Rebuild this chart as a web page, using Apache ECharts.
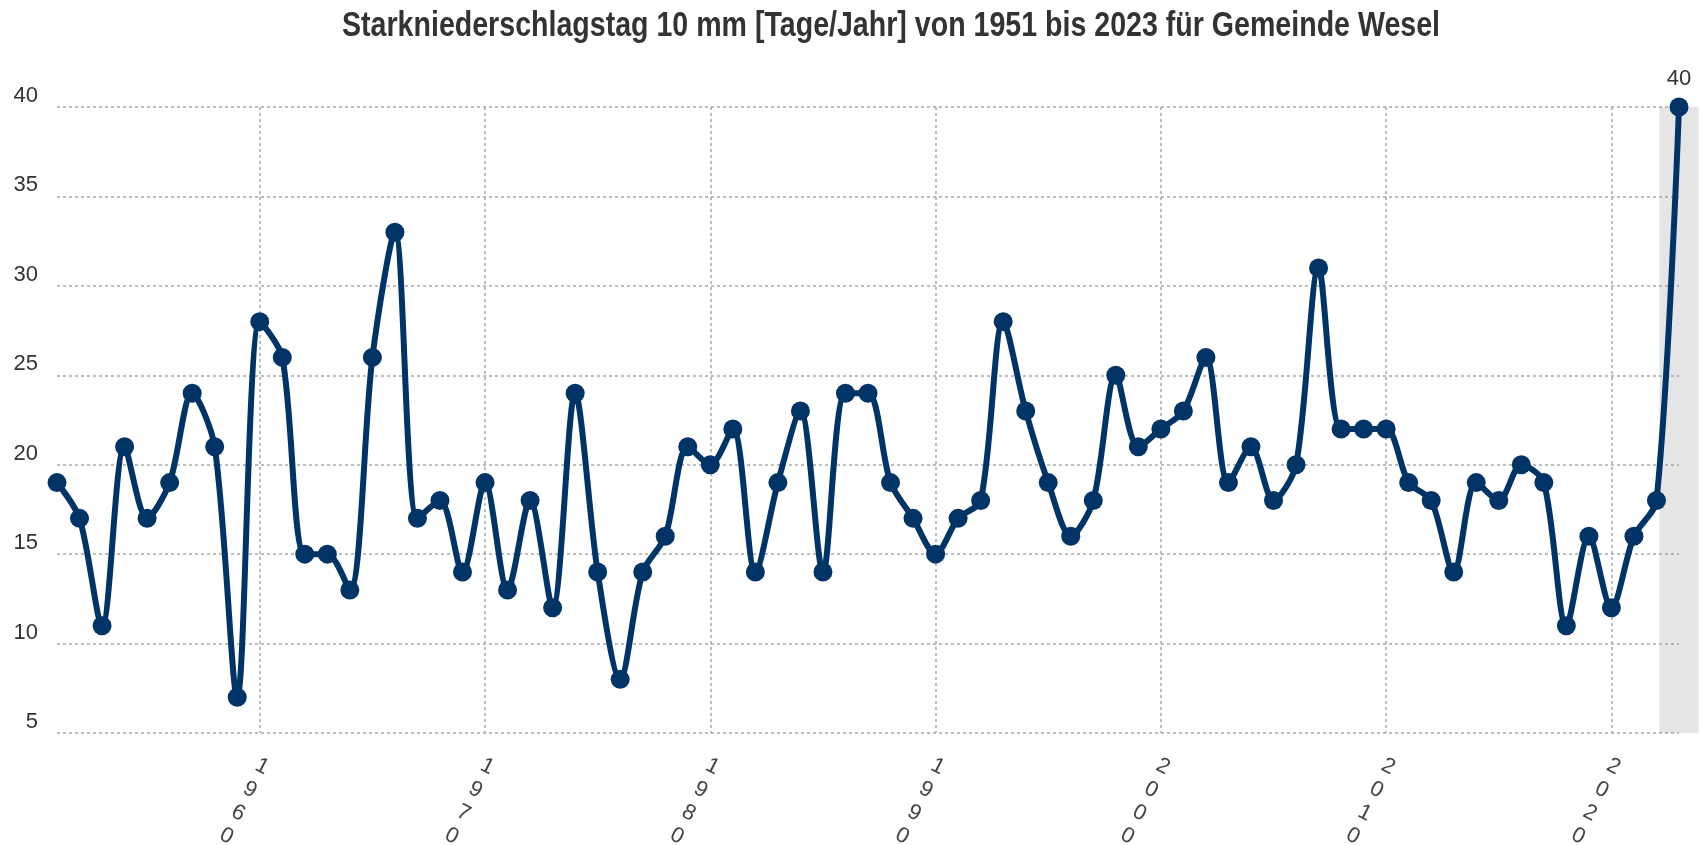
<!DOCTYPE html>
<html>
<head>
<meta charset="utf-8">
<script src="https://cdn.jsdelivr.net/npm/echarts@6/dist/echarts.min.js"></script>
<style>
html,body{margin:0;padding:0;background:#fff;}
#chart{width:1700px;height:845px;}
</style>
</head>
<body>
<div id="chart"></div>
<script>
const titleText = 'Starkniederschlagstag 10 mm [Tage/Jahr] von 1951 bis 2023 für Gemeinde Wesel';
const years = ['1951','1952','1953','1954','1955','1956','1957','1958','1959','1960',
  '1961','1962','1963','1964','1965','1966','1967','1968','1969','1970',
  '1971','1972','1973','1974','1975','1976','1977','1978','1979','1980',
  '1981','1982','1983','1984','1985','1986','1987','1988','1989','1990',
  '1991','1992','1993','1994','1995','1996','1997','1998','1999','2000',
  '2001','2002','2003','2004','2005','2006','2007','2008','2009','2010',
  '2011','2012','2013','2014','2015','2016','2017','2018','2019','2020',
  '2021','2022','2023'];
const values = [19,17,11,21,17,19,24,21,7,28,
  26,15,15,13,26,33,17,18,14,19,
  13,18,12,24,14,8,14,16,21,20,
  22,14,19,23,14,24,24,19,17,15,
  17,18,28,23,19,16,18,25,21,22,
  23,26,19,21,18,20,31,22,22,22,
  19,18,14,19,18,20,19,11,16,12,
  16,18,40];
// highlighted year (grey band): base and top of the band
const highlightYear = '2023';
const bandBase = 5;
const bandTop = 40;
const yTicks = {min: 5, max: 40, interval: 5};

const font = "'Liberation Sans',Arial,sans-serif";
const navy = '#003366';

// condensed bold title: measure natural width and squeeze to the narrow look
const titleFontSize = 35;
const titleTargetWidth = 1098;
const cv = document.createElement('canvas').getContext('2d');
cv.font = 'bold ' + titleFontSize + "px 'Liberation Sans'";
const titleScaleX = titleTargetWidth / cv.measureText(titleText).width;

const bandBaseData = years.map(y => y === highlightYear ? bandBase : '-');
const bandData = years.map(y => y === highlightYear ? bandTop - bandBase : '-');

const chart = echarts.init(document.getElementById('chart'), null, {renderer: 'canvas'});
chart.setOption({
  animation: false,
  backgroundColor: '#fff',
  graphic: [{
    type: 'text',
    x: 342,
    y: 26,
    scaleX: titleScaleX,
    style: {
      text: titleText,
      font: 'bold ' + titleFontSize + "px 'Liberation Sans'",
      fill: '#333',
      verticalAlign: 'middle',
      align: 'left'
    }
  }],
  grid: {left: 57, right: 21, top: 107, bottom: 112, containLabel: false, outerBoundsMode: 'none'},
  xAxis: {
    type: 'category',
    data: years,
    boundaryGap: false,
    axisLine: {show: false},
    axisTick: {show: false},
    axisLabel: {
      interval: (i, v) => Number(v) % 10 === 0,
      formatter: v => v.split('').join('\n'),
      rotate: -27,
      align: 'center',
      verticalAlign: 'top',
      margin: 18,
      padding: [0, 0, 0, 18],
      fontFamily: font,
      fontSize: 22,
      lineHeight: 26,
      color: '#444'
    },
    splitLine: {
      show: true,
      interval: (i, v) => Number(v) % 10 === 0,
      lineStyle: {type: [3, 3], color: '#a8a8a8', width: 1.5}
    }
  },
  yAxis: {
    type: 'value',
    min: yTicks.min,
    max: yTicks.max,
    interval: yTicks.interval,
    axisLine: {show: false},
    axisTick: {show: false},
    axisLabel: {
      margin: 19,
      verticalAlign: 'bottom',
      fontFamily: font,
      fontSize: 22,
      color: '#333'
    },
    splitLine: {lineStyle: {type: [3, 3], color: '#a8a8a8', width: 1.5}}
  },
  series: [
    {
      type: 'bar',
      stack: 'band',
      data: bandBaseData,
      barWidth: 39,
      clip: false,
      silent: true,
      itemStyle: {color: 'rgba(0,0,0,0)'},
      z: 1
    },
    {
      type: 'bar',
      stack: 'band',
      data: bandData,
      barWidth: 39,
      clip: false,
      silent: true,
      itemStyle: {color: 'rgba(150,150,150,0.25)'},
      z: 1
    },
    {
      type: 'line',
      data: values,
      smooth: 0.3,
      symbol: 'circle',
      symbolSize: 19,
      showAllSymbol: true,
      lineStyle: {color: navy, width: 6},
      itemStyle: {color: navy},
      label: {
        show: true,
        position: 'top',
        distance: 8,
        formatter: p => p.dataIndex === values.length - 1 ? String(p.value) : '',
        fontFamily: font,
        fontSize: 22,
        color: '#333'
      },
      z: 3
    }
  ]
});
</script>
</body>
</html>
